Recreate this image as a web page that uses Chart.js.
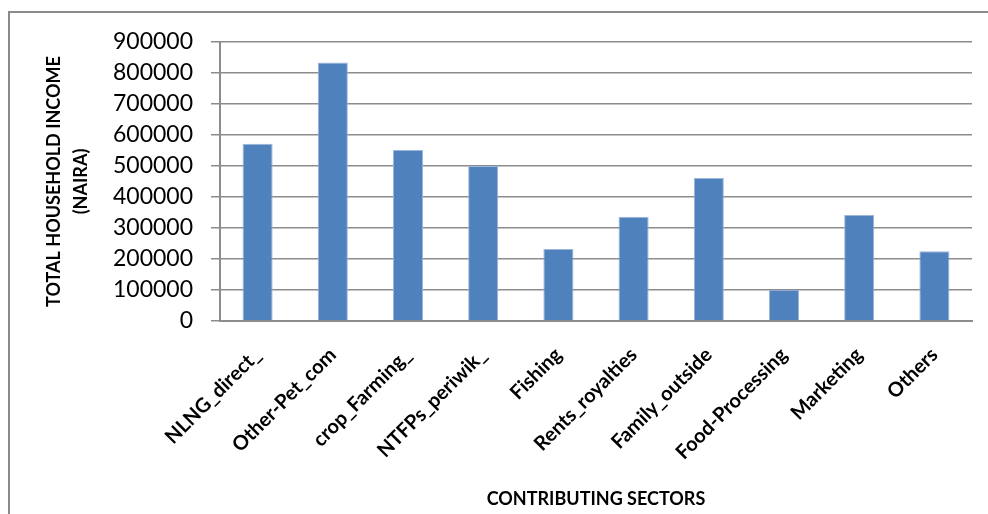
<!DOCTYPE html>
<html>
<head>
<meta charset="utf-8">
<script src="https://cdn.jsdelivr.net/npm/chart.js@4.4.1/dist/chart.umd.min.js"></script>
<style>
  html, body { margin: 0; padding: 0; background: #fff; }
  #wrap { position: relative; width: 988px; height: 514px; overflow: hidden; }
  #frame { position: absolute; left: 8px; top: 11px; width: 1000px; height: 520px;
           border-left: 2px solid #8a8a8a; border-top: 2px solid #8a8a8a; box-sizing: border-box; }
  canvas { position: absolute; left: 0; top: 0; }
</style>
</head>
<body>
<div id="wrap">
  <div id="frame"></div>
  <canvas id="c" width="988" height="514"></canvas>
</div>
<script>
const categories = ["NLNG_direct_", "Other-Pet_com", "crop_Farming_", "NTFPs_periwik_", "Fishing",
                    "Rents_royalties", "Family_outside", "Food-Processing", "Marketing", "Others"];
const incomeValues = [572000, 834000, 552000, 500000, 232000, 336000, 461000, 101000, 342000, 225000];
const yTickMax = 900000;
const yTickStep = 100000;
const yTitle = ["TOTAL HOUSEHOLD INCOME", "(NAIRA)"];
const xTitle = "CONTRIBUTING SECTORS";

const FONT = "Lato, 'Open Sans', sans-serif";
const GRID = "#8c8c8c";

new Chart(document.getElementById("c"), {
  type: "bar",
  data: {
    labels: categories,
    datasets: [{
      data: incomeValues,
      backgroundColor: "#4f81bd",
      borderColor: "#9bb7db",
      borderWidth: 1,
      barPercentage: 0.8,
      categoryPercentage: 0.5
    }]
  },
  options: {
    responsive: false,
    animation: false,
    devicePixelRatio: 1,
    layout: { padding: { left: 0, right: 16, top: 42, bottom: 4 } },
    plugins: { legend: { display: false }, tooltip: { enabled: false } },
    scales: {
      x: {
        afterFit: (s) => { s.height = 189; },
        grid: { display: false, drawTicks: false },
        border: { display: true, color: GRID, width: 2 },
        ticks: {
          autoSkip: false, minRotation: 45, maxRotation: 45, padding: 22,
          color: "#000", font: { family: FONT, size: 20, weight: "bold" }
        },
        title: {
          display: true, text: xTitle, color: "#000", padding: { top: 0, bottom: 0 },
          font: { family: FONT, size: 18, weight: "bold" }
        }
      },
      y: {
        min: 0, max: yTickMax,
        afterFit: (s) => { s.width = 220; },
        grid: { color: GRID, lineWidth: 1.5, tickLength: 9 },
        border: { display: true, color: GRID, width: 2 },
        ticks: {
          stepSize: yTickStep, padding: 18, color: "#000",
          font: { family: FONT, size: 23 },
          callback: (v) => String(v)
        },
        title: {
          display: true, text: yTitle, color: "#000", padding: { top: 41, bottom: 0 },
          font: { family: FONT, size: 18, weight: "bold", lineHeight: 1.5 }
        }
      }
    }
  }
});
</script>
</body>
</html>
